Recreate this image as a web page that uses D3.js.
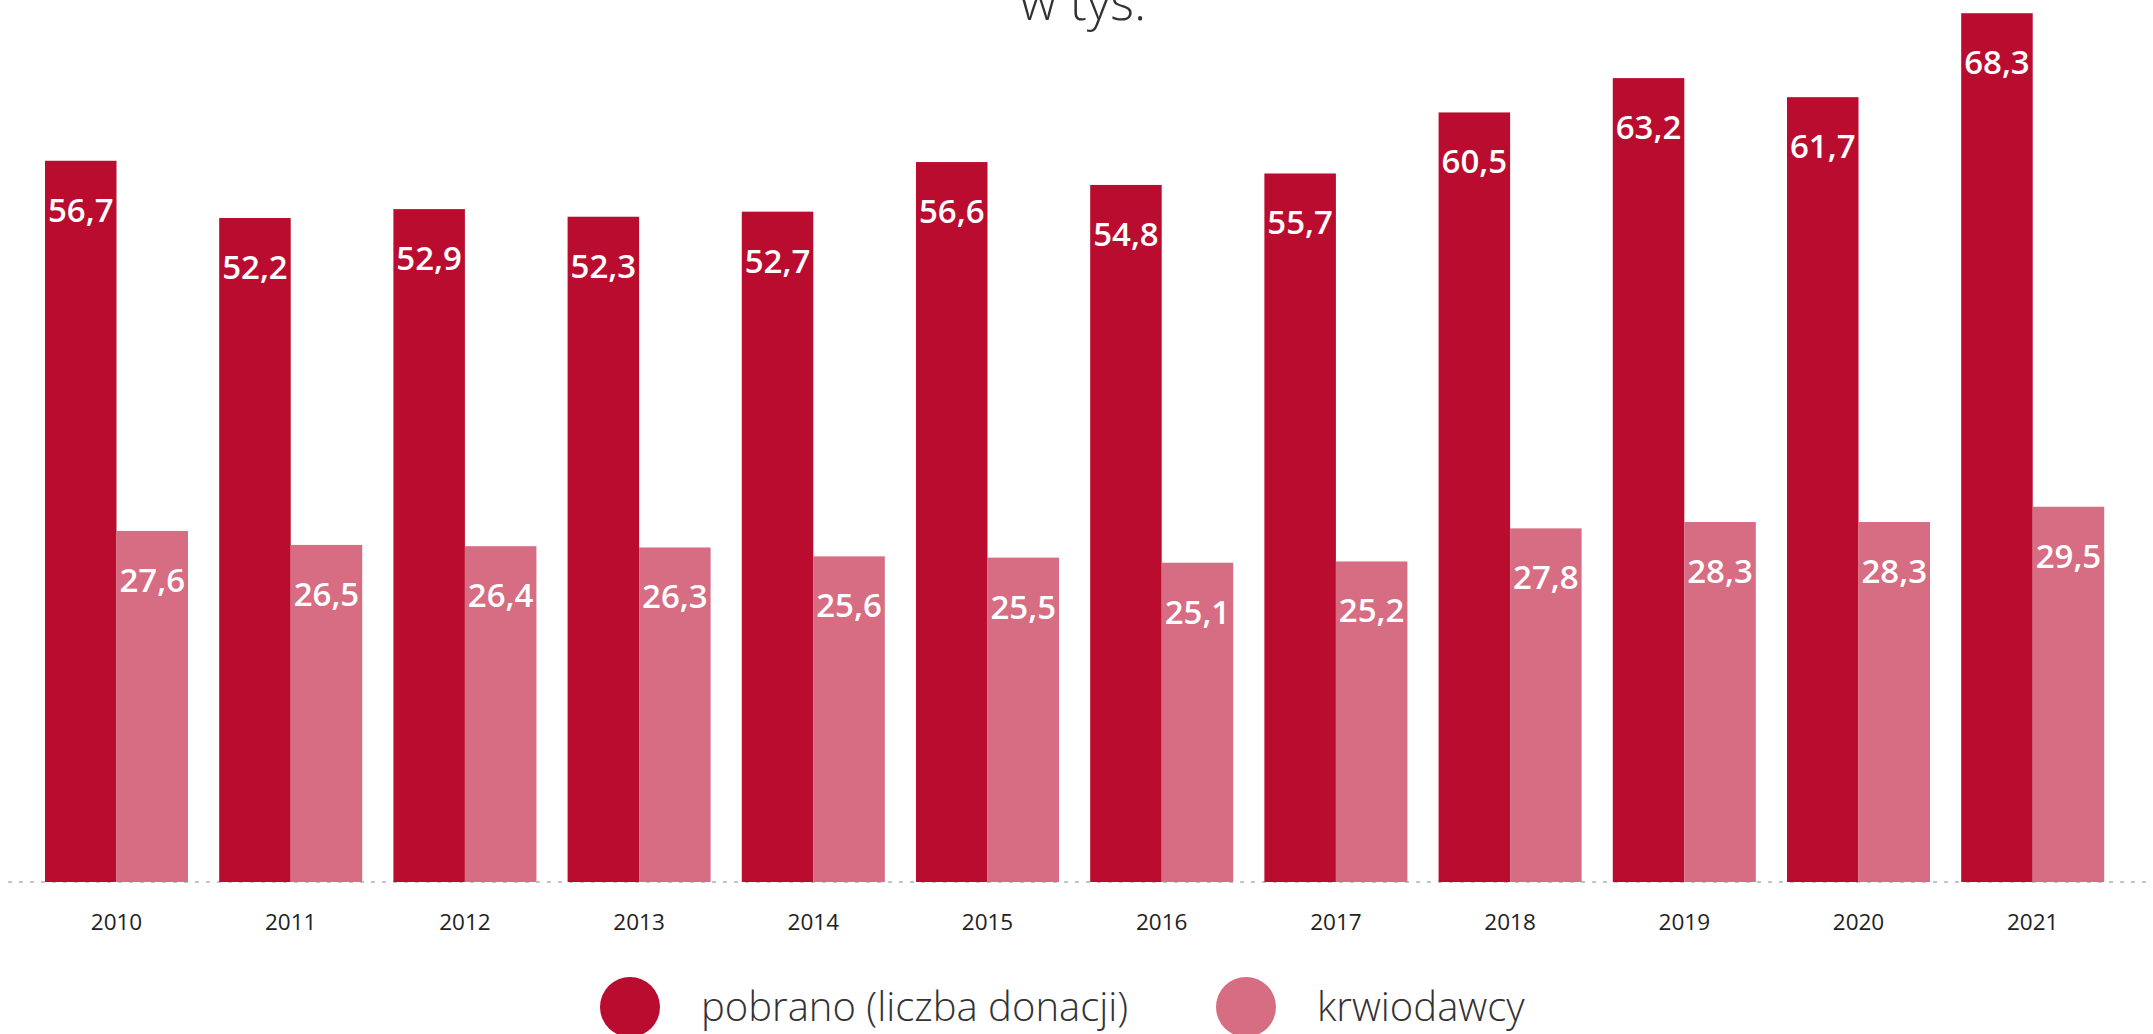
<!DOCTYPE html>
<html>
<head>
<meta charset="utf-8">
<script src="https://cdn.jsdelivr.net/npm/d3@7"></script>
<style>
  html, body { margin: 0; padding: 0; background: #fff; }
  svg { display: block; font-family: "Open Sans", "Noto Sans", sans-serif; }
</style>
</head>
<body>
<svg id="chart" width="2153" height="1034"></svg>
<script>
/* ---------- data ---------- */
const years = ["2010", "2011", "2012", "2013", "2014", "2015", "2016", "2017", "2018", "2019", "2020", "2021"];
const seriesNames = ["pobrano (liczba donacji)", "krwiodawcy"];
const donations = [56.7, 52.2, 52.9, 52.3, 52.7, 56.6, 54.8, 55.7, 60.5, 63.2, 61.7, 68.3];
const donors = [27.6, 26.5, 26.4, 26.3, 25.6, 25.5, 25.1, 25.2, 27.8, 28.3, 28.3, 29.5];
const seriesColors = ["#ba0c2f", "#d66d82"];
const titleText = "w tys.";

/* ---------- layout ---------- */
const baseY = 882;
const svg = d3.select("#chart");

const x0 = d3.scaleBand().domain(years)
  .range([29.4, 2119.8]).paddingInner(0.179).paddingOuter(0.0895);
const x1 = d3.scaleBand().domain(seriesNames).range([0, x0.bandwidth()]);
const y = d3.scaleLinear().domain([0, 70]).range([baseY, baseY - 70 * 12.72]);
const color = d3.scaleOrdinal().domain(seriesNames).range(seriesColors);

const rows = years.map((yr, i) => ({ year: yr, values: [donations[i], donors[i]] }));
const fmt = v => d3.format(".1f")(v).replace(".", ",");

/* ---------- title (cut off at top, as in the source) ---------- */
svg.append("text")
  .attr("x", 1083).attr("y", 20)
  .attr("text-anchor", "middle")
  .style("font-size", "51px").style("font-weight", 300).style("fill", "#333")
  .text(titleText);

/* ---------- baseline (dotted) ---------- */
svg.append("line")
  .attr("x1", 8).attr("x2", 2147).attr("y1", baseY).attr("y2", baseY)
  .style("stroke", "#c4c4c4").style("stroke-width", 2)
  .style("stroke-dasharray", "4,7");

/* ---------- bars ---------- */
const groups = svg.append("g").selectAll("g")
  .data(rows).join("g")
  .attr("transform", d => `translate(${x0(d.year)},0)`);

groups.selectAll("rect")
  .data(d => d.values.map((v, k) => ({ key: seriesNames[k], v })))
  .join("rect")
  .attr("x", d => x1(d.key))
  .attr("y", d => y(d.v))
  .attr("width", x1.bandwidth())
  .attr("height", d => baseY - y(d.v))
  .style("fill", d => color(d.key));

groups.selectAll("text.val")
  .data(d => d.values.map((v, k) => ({ key: seriesNames[k], v })))
  .join("text").attr("class", "val")
  .attr("x", d => x1(d.key) + x1.bandwidth() / 2)
  .attr("y", d => y(d.v) + 61)
  .attr("text-anchor", "middle")
  .style("font-size", "33px").style("font-weight", 600).style("fill", "#fff")
  .text(d => fmt(d.v));

/* ---------- x axis labels ---------- */
const xAxis = d3.axisBottom(x0).tickSize(0).tickPadding(0);
const axisG = svg.append("g").attr("transform", `translate(0,${baseY})`).call(xAxis);
axisG.select(".domain").remove();
axisG.selectAll("text")
  .attr("y", 48).attr("dy", 0)
  .style("font-family", "\"Open Sans\", sans-serif")
  .style("font-size", "22.5px").style("fill", "#222");

/* ---------- legend ---------- */
const legendX = [630, 1246];
const legend = svg.append("g").selectAll("g")
  .data(seriesNames).join("g")
  .attr("transform", (d, i) => `translate(${legendX[i]},1007)`);
legend.append("circle").attr("r", 30).style("fill", d => color(d));
legend.append("text")
  .attr("x", 71).attr("y", 14)
  .style("font-size", "40px").style("font-weight", 300).style("fill", "#333")
  .text(d => d);
</script>
</body>
</html>
